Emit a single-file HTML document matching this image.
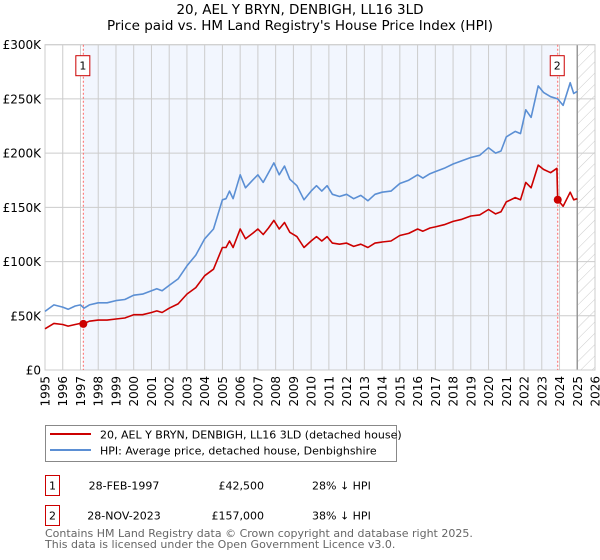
<!DOCTYPE html>
<html><head><meta charset="utf-8"><style>
body{margin:0;background:#fff;font-family:"DejaVu Sans","Liberation Sans",sans-serif;}
svg{display:block}
</style></head><body>
<svg id="chart" width="600" height="560" xmlns="http://www.w3.org/2000/svg" font-family="DejaVu Sans, Liberation Sans, sans-serif">
<text x="300" y="14" text-anchor="middle" font-size="13.5">20, AEL Y BRYN, DENBIGH, LL16 3LD</text>
<text x="300" y="30" text-anchor="middle" font-size="13.5">Price paid vs. HM Land Registry's House Price Index (HPI)</text>
<defs><pattern id="hatch" width="8" height="8" patternUnits="userSpaceOnUse" patternTransform="rotate(45)"><line x1="0" y1="0" x2="0" y2="8" stroke="#ccc" stroke-width="1"/></pattern></defs>
<g id="plot"></g>
<rect x="45.5" y="425.5" width="351" height="36" fill="#fff" stroke="#888"/>
<line x1="50" y1="434" x2="91" y2="434" stroke="#cc0000" stroke-width="2"/>
<text x="100" y="438.5" font-size="11">20, AEL Y BRYN, DENBIGH, LL16 3LD (detached house)</text>
<line x1="50" y1="450" x2="91" y2="450" stroke="#5b8fd4" stroke-width="2"/>
<text x="100" y="454.5" font-size="11">HPI: Average price, detached house, Denbighshire</text>
<g font-size="11">
<rect x="45.5" y="475.5" width="14" height="20" fill="#fff" stroke="#cc0000"/>
<text x="52.5" y="489.5" text-anchor="middle">1</text>
<text x="124" y="489.5" text-anchor="middle">28-FEB-1997</text>
<text x="264" y="489.5" text-anchor="end">£42,500</text>
<text x="312" y="489.5">28% ↓ HPI</text>
</g>
<g font-size="11">
<rect x="45.5" y="505.5" width="14" height="20" fill="#fff" stroke="#cc0000"/>
<text x="52.5" y="519.5" text-anchor="middle">2</text>
<text x="124" y="519.5" text-anchor="middle">28-NOV-2023</text>
<text x="264" y="519.5" text-anchor="end">£157,000</text>
<text x="312" y="519.5">38% ↓ HPI</text>
</g>
<text x="45" y="537" font-size="11" fill="#666">Contains HM Land Registry data © Crown copyright and database right 2025.</text>
<text x="45" y="548" font-size="11" fill="#666">This data is licensed under the Open Government Licence v3.0.</text>
</svg>
<script>
const hpiYears=[1995.0,1995.5,1996.0,1996.3,1996.7,1997.0,1997.2,1997.5,1998.0,1998.5,1999.0,1999.5,2000.0,2000.5,2001.0,2001.3,2001.6,2002.0,2002.5,2003.0,2003.5,2004.0,2004.5,2005.0,2005.2,2005.4,2005.6,2006.0,2006.3,2006.7,2007.0,2007.3,2007.6,2007.9,2008.2,2008.5,2008.8,2009.2,2009.6,2010.0,2010.3,2010.6,2010.9,2011.2,2011.6,2012.0,2012.4,2012.8,2013.2,2013.6,2014.0,2014.5,2015.0,2015.5,2016.0,2016.3,2016.7,2017.0,2017.5,2018.0,2018.5,2019.0,2019.5,2020.0,2020.4,2020.7,2021.0,2021.5,2021.8,2022.1,2022.4,2022.8,2023.1,2023.5,2023.9,2024.2,2024.6,2024.8,2025.0];
const hpiValues=[54,60,58,56,59,60,57,60,62,62,64,65,69,70,73,75,73,78,84,96,106,121,130,157,158,165,158,180,168,175,180,173,182,191,180,188,176,170,157,165,170,165,170,162,160,162,158,161,156,162,164,165,172,175,180,177,181,183,186,190,193,196,198,205,200,202,215,220,218,240,233,262,256,252,250,244,265,255,257];
const priceYears=[1995.0,1995.5,1996.0,1996.3,1996.7,1997.0,1997.16,1997.5,1998.0,1998.5,1999.0,1999.5,2000.0,2000.5,2001.0,2001.3,2001.6,2002.0,2002.5,2003.0,2003.5,2004.0,2004.5,2005.0,2005.2,2005.4,2005.6,2006.0,2006.3,2006.7,2007.0,2007.3,2007.6,2007.9,2008.2,2008.5,2008.8,2009.2,2009.6,2010.0,2010.3,2010.6,2010.9,2011.2,2011.6,2012.0,2012.4,2012.8,2013.2,2013.6,2014.0,2014.5,2015.0,2015.5,2016.0,2016.3,2016.7,2017.0,2017.5,2018.0,2018.5,2019.0,2019.5,2020.0,2020.4,2020.7,2021.0,2021.5,2021.8,2022.1,2022.4,2022.8,2023.1,2023.5,2023.85,2023.9,2024.2,2024.6,2024.8,2025.0];
const priceValues=[38,43,42,40.5,42,43,42.5,45,46,46,47,48,51,51,53,54.5,53,57,61,70,76,87,93,113,113,119,113,130,121,126,130,125,131,138,130,136,127,123,113,119,123,119,123,117,116,117,114,116,113,117,118,119,124,126,130,128,131,132,134,137,139,142,143,148,144,146,155,159,157,173,168,189,185,182,186,157,151,164,157,158];
const saleYears=[1997.16,2023.9];
const saleValues=[42.5,157];
const saleLabels=["1","2"];
const yTicks=[0,50,100,150,200,250,300];
const yTickLabels=["£0","£50K","£100K","£150K","£200K","£250K","£300K"];
const xTicks=[1995,1996,1997,1998,1999,2000,2001,2002,2003,2004,2005,2006,2007,2008,2009,2010,2011,2012,2013,2014,2015,2016,2017,2018,2019,2020,2021,2022,2023,2024,2025,2026];

const L=45,R=595,T=44.7,B=370,X0=1995,X1=2026,YMAX=300;
const NS="http://www.w3.org/2000/svg";
function xs(v){return L+(v-X0)/(X1-X0)*(R-L);}
function ys(v){return B-v/YMAX*(B-T);}
const g=document.getElementById('plot');
function mk(tag,attrs){const e=document.createElementNS(NS,tag);for(const k in attrs)e.setAttribute(k,attrs[k]);g.appendChild(e);return e;}
const bg=mk('rect',{x:L,y:T,width:R-L,height:B-T,fill:'#fff'});


const sh=mk('rect',{x:xs(saleYears[0]),y:T,width:xs(saleYears[1])-xs(saleYears[0]),height:B-T,fill:'#f2f6fe'});


const ht=mk('rect',{x:xs(2025),y:T,width:R-xs(2025),height:B-T,fill:'url(#hatch)'});


xTicks.forEach(t=>{
  const l=mk('line',{x1:xs(t),x2:xs(t),y1:T,y2:B,stroke:'#ccc','stroke-width':1});
  
  
  const tx=mk('text',{x:0,y:0,'font-size':12,'text-anchor':'end',transform:`translate(${xs(t)+4.5},${B+6}) rotate(-90)`});
  tx.textContent=t;
  
  
});
yTicks.forEach((t,i)=>{
  const l=mk('line',{x1:L,x2:R,y1:ys(t),y2:ys(t),stroke:'#ccc','stroke-width':1});
  
  
  const tx=mk('text',{x:L-4,y:ys(t)+4.5,'font-size':12,'text-anchor':'end'});
  tx.textContent=yTickLabels[i];
  
  
});
const nl=mk('line',{x1:xs(2025),x2:xs(2025),y1:T,y2:B,stroke:'#999','stroke-width':1.5});


const fr=mk('rect',{x:L,y:T,width:R-L,height:B-T,fill:'none',stroke:'#ccc'});


saleYears.forEach((s,i)=>{
  const l=mk('line',{x1:xs(s),x2:xs(s),y1:T,y2:B,stroke:'#f66','stroke-width':1,'stroke-dasharray':'2,2'});
  
  
  const r=mk('rect',{x:xs(s)-7.5,y:T+11,width:14,height:20,fill:'#fff',stroke:'#cc0000'});
  
  
  const t=mk('text',{x:xs(s)-0.5,y:T+25,'font-size':11,'text-anchor':'middle'});
  t.textContent=saleLabels[i];
  
  
});
function path(xa,va,color,name){
  const d=xa.map((x,i)=>(i?'L':'M')+xs(x).toFixed(1)+','+ys(va[i]).toFixed(1)).join('');
  const p=mk('path',{d:d,fill:'none',stroke:color,'stroke-width':1.6,'stroke-linejoin':'round'});
  
  
}
path(hpiYears,hpiValues,'#5b8fd4','hpi-line');
path(priceYears,priceValues,'#cc0000','price-line');
saleYears.forEach((s,i)=>{
  const c=mk('circle',{cx:xs(s),cy:ys(saleValues[i]),r:4,fill:'#cc0000'});
  
  
});
</script>
</body></html>
